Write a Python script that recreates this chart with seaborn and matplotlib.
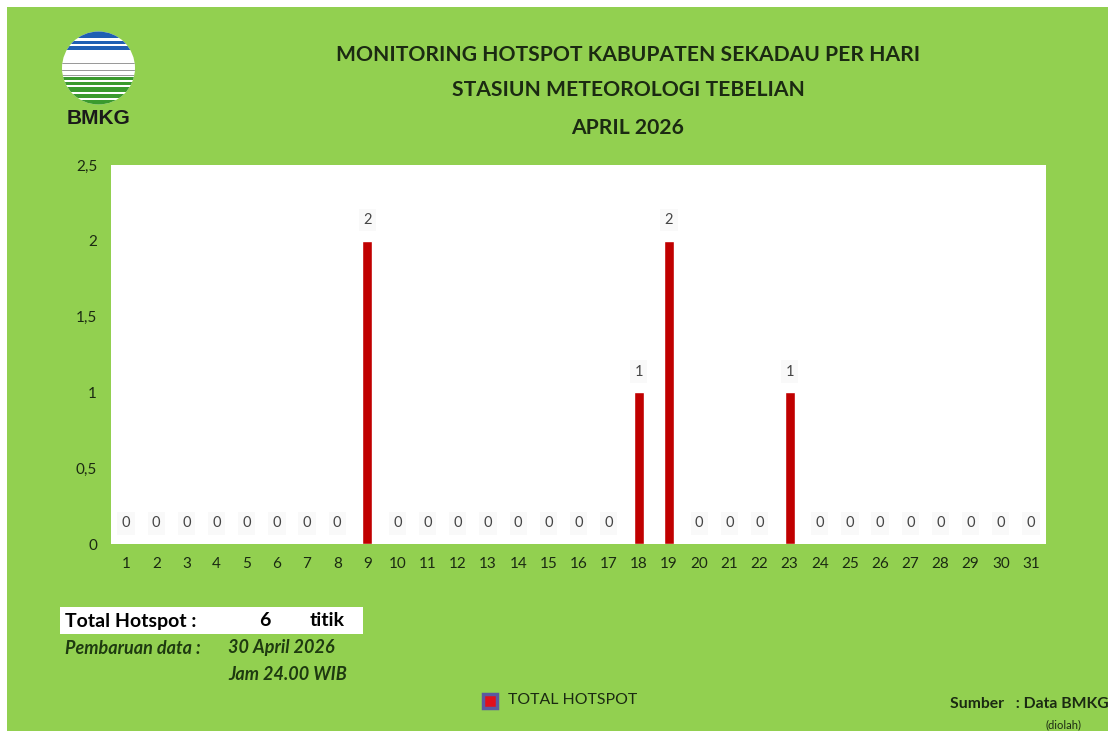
import matplotlib
matplotlib.use("Agg")
import matplotlib.pyplot as plt
import matplotlib.patches as mpatches
import numpy as np
import pandas as pd
import seaborn as sns

# ---- data ----
days = [str(d) for d in range(1, 32)]
hotspots = [0, 0, 0, 0, 0, 0, 0, 0, 2, 0, 0, 0, 0, 0, 0, 0, 0, 1, 2, 0, 0, 0, 1, 0, 0, 0, 0, 0, 0, 0, 0]
ytick_vals = [0, 0.5, 1, 1.5, 2, 2.5]
ytick_labels = ["0", "0,5", "1", "1,5", "2", "2,5"]
title_lines = ["MONITORING HOTSPOT KABUPATEN SEKADAU PER HARI",
               "STASIUN METEOROLOGI TEBELIAN",
               "APRIL 2026"]
total_hotspot = 6

sns.set_theme(style="white")
plt.rcParams["font.family"] = ["Lato", "DejaVu Sans"]

W, H = 1108, 731
GREEN = "#92D050"
DARK = "#1b2a12"
fig = plt.figure(figsize=(W / 100, H / 100), dpi=100, facecolor=GREEN)

def fx(px):
    return px / W

def fy(py):
    return 1 - py / H

# white outer margins (left and top)
fig.patches.append(mpatches.Rectangle((0, 0), fx(7), 1, transform=fig.transFigure,
                                      facecolor="white", edgecolor="none"))
fig.patches.append(mpatches.Rectangle((0, fy(7)), 1, 7 / H, transform=fig.transFigure,
                                      facecolor="white", edgecolor="none"))

# ---- main axes ----
ax = fig.add_axes([fx(111), fy(544), fx(1046) - fx(111), fy(165) - fy(544)])
ax.set_facecolor("white")
df = pd.DataFrame({"Hari": days, "Hotspot": hotspots})
sns.barplot(data=df, x="Hari", y="Hotspot", order=days, color="#C00000", width=0.33,
            saturation=1, ax=ax, zorder=3)
ax.set_xlim(-0.5, len(days) - 0.5)
ax.set_ylim(0, 2.5)
ax.set_yticks(ytick_vals)
ax.set_yticklabels(ytick_labels)
ax.set_xlabel("")
ax.set_ylabel("")
for s in ax.spines.values():
    s.set_visible(False)
ax.tick_params(axis="x", length=0, pad=9, labelsize=11, labelcolor=DARK)
ax.tick_params(axis="y", length=0, pad=10, labelsize=11, labelcolor=DARK)

for i, v in enumerate(hotspots):
    ax.annotate(f"{v}", (i, v), xytext=(0, 15), textcoords="offset points",
                ha="center", va="center", fontsize=10.5, color="#454545", zorder=4,
                bbox=dict(boxstyle="square,pad=0.3", fc="#f9f9f9", ec="none"))

# ---- titles ----
for txt, py in zip(title_lines, [55, 90, 128]):
    fig.text(fx(628), fy(py), txt, ha="center", va="center", fontsize=15.2,
             fontweight="bold", color=DARK)

# ---- logo ----
lax = fig.add_axes([fx(98.5 - 40), fy(68 + 40), fx(80), 80 / H])
lax.set_xlim(-40, 40)
lax.set_ylim(-40, 40)
lax.axis("off")
R = 36.5
circ = mpatches.Circle((0, 0), R, facecolor="white", edgecolor="none", transform=lax.transData)
lax.add_patch(circ)

def band(y0, y1, color):
    a, b = 68 - y1, 68 - y0
    r = lax.add_patch(mpatches.Rectangle((-40, a), 80, b - a, facecolor=color, edgecolor="none"))
    r.set_clip_path(circ)

BLUE = "#1f5fb3"
GRN = "#3a9a2e"
band(31, 38, BLUE)
band(41, 44, BLUE)
band(46, 50, BLUE)
band(62.5, 63.5, "#9a9a9a")
band(69.5, 70.5, "#9a9a9a")
band(74.5, 75.5, "#9a9a9a")
band(77, 80, GRN)
band(82, 85, GRN)
band(87, 92, GRN)
band(94, 98, GRN)
band(100, 106, GRN)
fig.text(fx(98), fy(118), "BMKG", ha="center", va="center", fontsize=15,
         fontweight="bold", color="#1a1a1a", family=["Liberation Sans", "DejaVu Sans"])

# ---- total box ----
fig.patches.append(mpatches.Rectangle((fx(60), fy(634)), fx(363) - fx(60), fy(607) - fy(634),
                                      transform=fig.transFigure, facecolor="white",
                                      edgecolor="none", zorder=1))
fig.text(fx(65), fy(621), "Total Hotspot :", ha="left", va="center", fontsize=14,
         fontweight="bold", color="black", zorder=2)
fig.text(fx(265), fy(621), f"{total_hotspot}", ha="center", va="center", fontsize=14,
         fontweight="bold", color="black", zorder=2)
fig.text(fx(310), fy(621), "titik", ha="left", va="center", fontsize=14,
         fontweight="bold", color="black", zorder=2)
fig.text(fx(65), fy(648), "Pembaruan data :", ha="left", va="center", fontsize=13,
         fontweight="bold", fontstyle="italic", color="#1e3a10")
fig.text(fx(228), fy(648), "30 April 2026", ha="left", va="center", fontsize=13,
         fontweight="bold", fontstyle="italic", color="#1e3a10")
fig.text(fx(228), fy(675), "Jam 24.00 WIB", ha="left", va="center", fontsize=13,
         fontweight="bold", fontstyle="italic", color="#1e3a10")

# ---- legend ----
fig.patches.append(mpatches.Rectangle((fx(483), fy(708)), fx(14), 14 / H, transform=fig.transFigure,
                                      facecolor="#E0101A", edgecolor="#5a5aa0", linewidth=2.5, zorder=2))
fig.text(fx(508), fy(700), "TOTAL HOTSPOT", ha="left", va="center", fontsize=11.4, color=DARK)

# ---- source ----
fig.text(fx(950), fy(704), "Sumber   : Data BMKG", ha="left", va="center", fontsize=11.3,
         fontweight="bold", color=DARK)
fig.text(fx(1064), fy(725), "(diolah)", ha="center", va="center", fontsize=8, color=DARK)

fig.savefig("out.png", dpi=100, facecolor=fig.get_facecolor())
